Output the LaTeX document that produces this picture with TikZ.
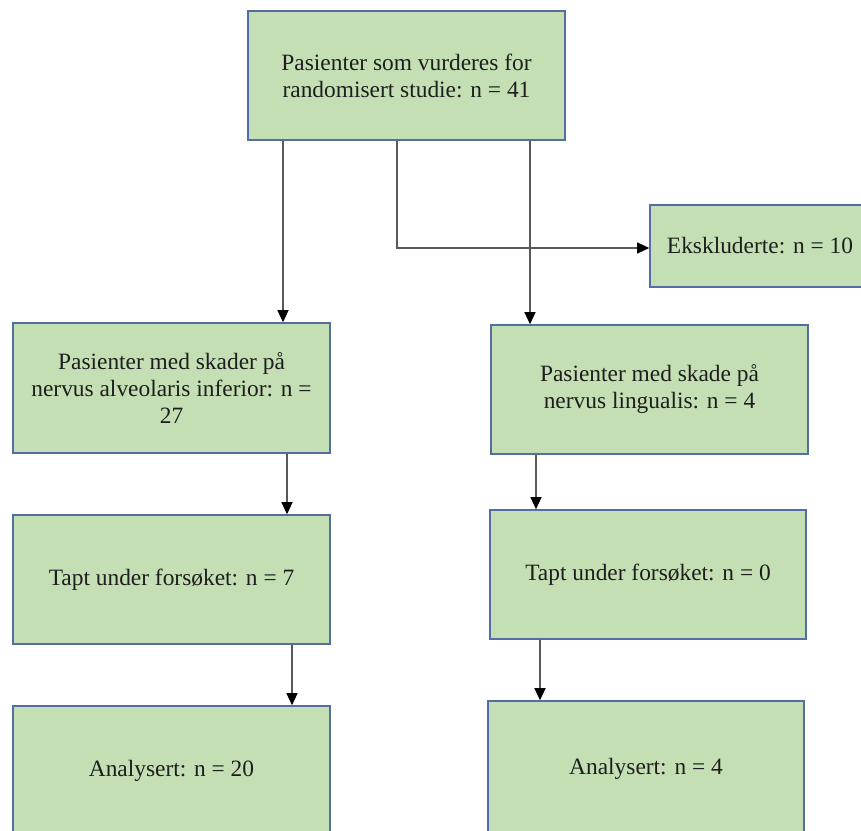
\documentclass[tikz,border=0pt]{standalone}
\usepackage{fontspec}
\setmainfont{Liberation Serif}
\usetikzlibrary{arrows.meta}
\definecolor{boxfill}{RGB}{196,223,180}
\definecolor{boxline}{RGB}{82,110,165}
\definecolor{txt}{RGB}{30,30,30}
\tikzset{
  flowbox/.style={draw=boxline, line width=1.6pt, fill=boxfill, align=center,
    inner sep=0pt, text=txt, font=\fontsize{23.4}{27}\selectfont},
  arr/.style={draw=black!65, line width=1.2pt, -{Triangle[length=12pt,width=11pt,fill=black,color=black]}}
}
\begin{document}
\begin{tikzpicture}[x=1pt,y=-1pt]
\clip (0,0) rectangle (861,830);
\fill[white] (0,0) rectangle (861,830);

\node[flowbox, minimum width=317pt, minimum height=129pt] (top) at (406.5,75.5)
  {Pasienter som vurderes for\\randomisert studie: n = 41};
\node[flowbox, minimum width=220pt, minimum height=82pt] (excl) at (760,246)
  {Ekskluderte: n = 10};
\node[flowbox, minimum width=317pt, minimum height=130pt] (L2) at (171.5,388)
  {Pasienter med skader på\\nervus alveolaris inferior: n =\\27};
\node[flowbox, minimum width=317pt, minimum height=129pt] (R2) at (649.5,389.5)
  {Pasienter med skade på\\nervus lingualis: n = 4};
\node[flowbox, minimum width=317pt, minimum height=129pt] (L3) at (171.5,579.5)
  {Tapt under forsøket: n = 7};
\node[flowbox, minimum width=316pt, minimum height=129pt] (R3) at (648,574.5)
  {Tapt under forsøket: n = 0};
\node[flowbox, minimum width=317pt, minimum height=129pt] (L4) at (171.5,770.5)
  {Analysert: n = 20};
\node[flowbox, minimum width=316pt, minimum height=135pt] (R4) at (646,768.5)
  {Analysert: n = 4};

\coordinate (xa) at (283,0);
\coordinate (xb) at (397,0);
\coordinate (xc) at (530,0);
\coordinate (xd) at (287,0);
\coordinate (xe) at (292,0);
\coordinate (xf) at (536,0);
\coordinate (xg) at (540,0);

\draw[arr] (top.south -| xa) -- (L2.north -| xa);
\draw[arr] (top.south -| xc) -- (R2.north -| xc);
\draw[arr] (top.south -| xb) |- ([yshift=-2pt]excl.west);
\draw[arr] (L2.south -| xd) -- (L3.north -| xd);
\draw[arr] (L3.south -| xe) -- (L4.north -| xe);
\draw[arr] (R2.south -| xf) -- (R3.north -| xf);
\draw[arr] (R3.south -| xg) -- (R4.north -| xg);
\end{tikzpicture}
\end{document}
